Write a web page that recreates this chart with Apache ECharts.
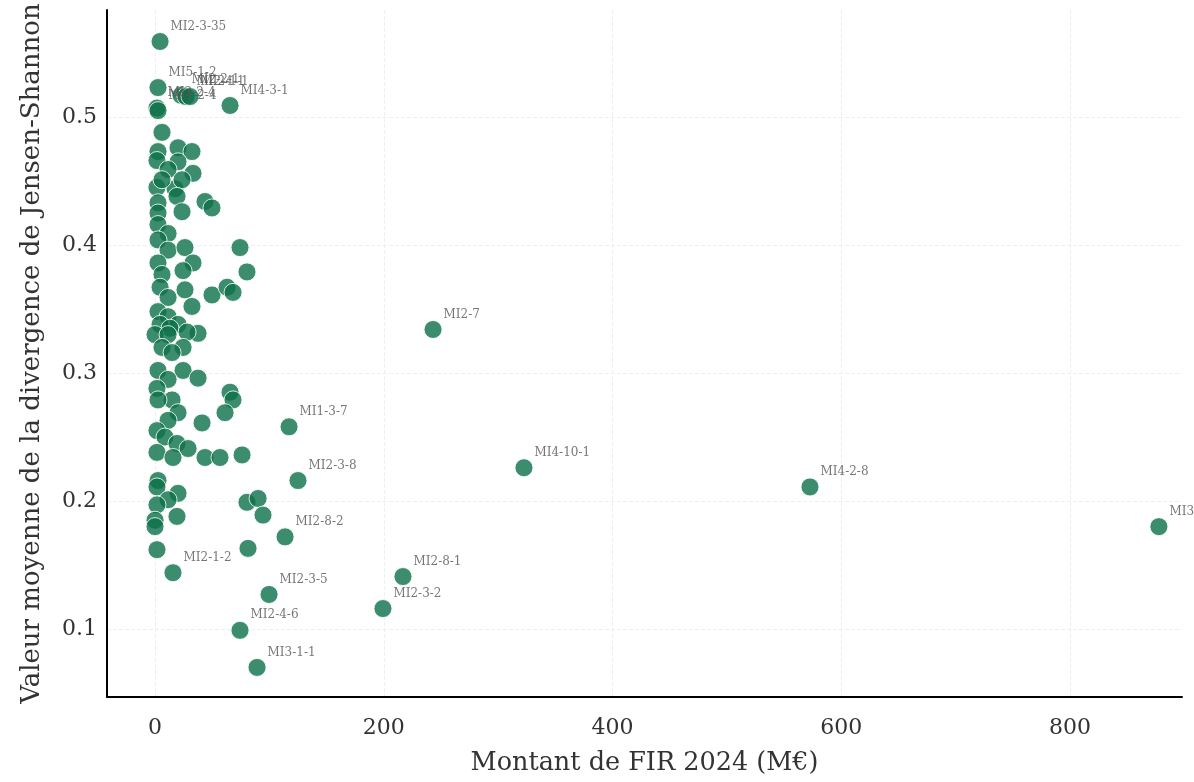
<!DOCTYPE html>
<html>
<head>
<meta charset="utf-8">
<script src="https://cdn.jsdelivr.net/npm/echarts@6/dist/echarts.min.js"></script>
<style>
  html, body { margin: 0; padding: 0; background: #ffffff; }
  #chart { width: 1194px; height: 782px; }
</style>
</head>
<body>
<div id="chart"></div>
<script>
// Programmes without an annotation: FIR 2024 amount (M€) and mean Jensen-Shannon divergence
const clusterFir = [
  6.1, 20.1, 32.3, 2.6, 1.7, 20.1, 11.4, 33.2, 1.7, 17.5,
  23.6, 6.1, 2.6, 19.2, 43.7, 49.8, 23.6, 2.6, 2.6, 11.4,
  2.6, 11.4, 26.2, 74.3, 33.2, 24.5, 2.6, 80.4, 6.1, 4.4,
  26.2, 49.8, 63.0, 68.2, 11.4, 32.3, 2.6, 11.4, 20.1, 4.4,
  13.1, 37.6, 28.0, 0.0, 11.4, 6.1, 24.5, 14.9, 2.6, 24.5,
  37.6, 11.4, 1.7, 14.9, 65.6, 68.2, 2.6, 61.2, 20.1, 41.1,
  11.4, 1.7, 8.7, 19.2, 28.9, 1.7, 43.7, 56.8, 76.1, 15.7,
  2.6, 1.7, 20.1, 11.4, 1.7, 80.4, 90.1, 94.4, 19.2, 0.0,
  0.0, 1.7, 81.3
];
const clusterJsd = [
  0.488, 0.476, 0.473, 0.473, 0.466, 0.465, 0.459, 0.456, 0.445, 0.444,
  0.451, 0.451, 0.433, 0.438, 0.434, 0.429, 0.426, 0.425, 0.416, 0.409,
  0.404, 0.396, 0.398, 0.398, 0.386, 0.380, 0.386, 0.379, 0.377, 0.367,
  0.365, 0.361, 0.367, 0.363, 0.359, 0.352, 0.348, 0.344, 0.338, 0.338,
  0.335, 0.331, 0.332, 0.330, 0.330, 0.320, 0.320, 0.316, 0.302, 0.302,
  0.296, 0.295, 0.288, 0.279, 0.285, 0.279, 0.279, 0.269, 0.269, 0.261,
  0.263, 0.255, 0.250, 0.245, 0.241, 0.238, 0.234, 0.234, 0.236, 0.234,
  0.216, 0.211, 0.206, 0.201, 0.197, 0.199, 0.202, 0.189, 0.188, 0.185,
  0.180, 0.162, 0.163
];

// Annotated programmes (extremes on either axis)
const labeledCodes = [
  'MI2-3-35', 'MI5-1-2', 'MI2-2-1', 'MI2-4-1', 'MI2-1-1', 'MI2-2-4', 'MI1-2-4', 'MI4-3-1',
  'MI1-3-7', 'MI2-3-8', 'MI2-8-2', 'MI2-1-2', 'MI2-3-5', 'MI2-4-6', 'MI3-1-1',
  'MI2-7', 'MI4-10-1', 'MI2-8-1', 'MI2-3-2', 'MI4-2-8', 'MI3-3-3'
];
const labeledFir = [
  4.4, 2.6, 22.7, 27.1, 30.6, 1.7, 2.6, 65.6,
  117.2, 125.0, 113.7, 15.7, 99.7, 74.3, 89.2,
  243.1, 322.6, 216.8, 199.3, 572.7, 877.8
];
const labeledJsd = [
  0.559, 0.523, 0.517, 0.516, 0.516, 0.507, 0.505, 0.509,
  0.258, 0.216, 0.172, 0.144, 0.127, 0.099, 0.070,
  0.334, 0.226, 0.141, 0.116, 0.211, 0.180
];

const xTicks = [0, 200, 400, 600, 800];
const yTicks = [0.1, 0.2, 0.3, 0.4, 0.5];

const xTitle = 'Montant de FIR 2024 (M€)';
const yTitle = 'Valeur moyenne de la divergence de Jensen-Shannon';

const serif = "'DejaVu Serif', 'Liberation Serif', serif";
const markerStyle = {
  color: '#0b7048',
  opacity: 0.8,
  borderColor: '#ffffff',
  borderWidth: 1
};

const clusterData = clusterFir.map((x, i) => [x, clusterJsd[i]]);
const labeledData = labeledFir.map((x, i) => ({
  value: [x, labeledJsd[i]],
  name: labeledCodes[i]
}));

const chart = echarts.init(document.getElementById('chart'), null, { renderer: 'canvas' });

chart.setOption({
  backgroundColor: '#ffffff',
  animation: false,
  grid: { left: 107, right: 12, top: 10, bottom: 85, containLabel: false },
  xAxis: {
    type: 'value',
    min: -42,
    max: 898,
    name: xTitle,
    nameLocation: 'middle',
    nameGap: 53,
    nameTextStyle: { fontFamily: serif, fontSize: 25.5, color: '#333333' },
    axisLine: { show: true, onZero: false, lineStyle: { color: '#000000', width: 2 } },
    axisTick: { show: false, customValues: xTicks },
    axisLabel: {
      customValues: xTicks,
      fontFamily: serif, fontSize: 22, color: '#333333', margin: 20
    },
    splitLine: { show: true, lineStyle: { color: '#efefef', type: 'dashed', width: 1 } }
  },
  yAxis: {
    type: 'value',
    min: 0.0469,
    max: 0.5836,
    name: yTitle,
    nameLocation: 'middle',
    nameGap: 62,
    nameTextStyle: { fontFamily: serif, fontSize: 26, color: '#333333' },
    axisLine: { show: true, onZero: false, lineStyle: { color: '#000000', width: 2 } },
    axisTick: { show: false, customValues: yTicks },
    axisLabel: {
      customValues: yTicks,
      formatter: v => v.toFixed(1),
      fontFamily: serif, fontSize: 22, color: '#333333', margin: 10
    },
    splitLine: { show: true, lineStyle: { color: '#efefef', type: 'dashed', width: 1 } }
  },
  series: [
    {
      type: 'scatter',
      symbolSize: 18,
      itemStyle: markerStyle,
      data: clusterData,
      emphasis: { disabled: true }
    },
    {
      type: 'scatter',
      symbolSize: 18,
      itemStyle: markerStyle,
      data: labeledData,
      emphasis: { disabled: true },
      label: {
        show: true,
        position: 'right',
        distance: 1,
        offset: [0, -15],
        formatter: p => p.name,
        fontFamily: serif,
        fontSize: 12,
        color: '#555555'
      }
    }
  ]
});
</script>
</body>
</html>
